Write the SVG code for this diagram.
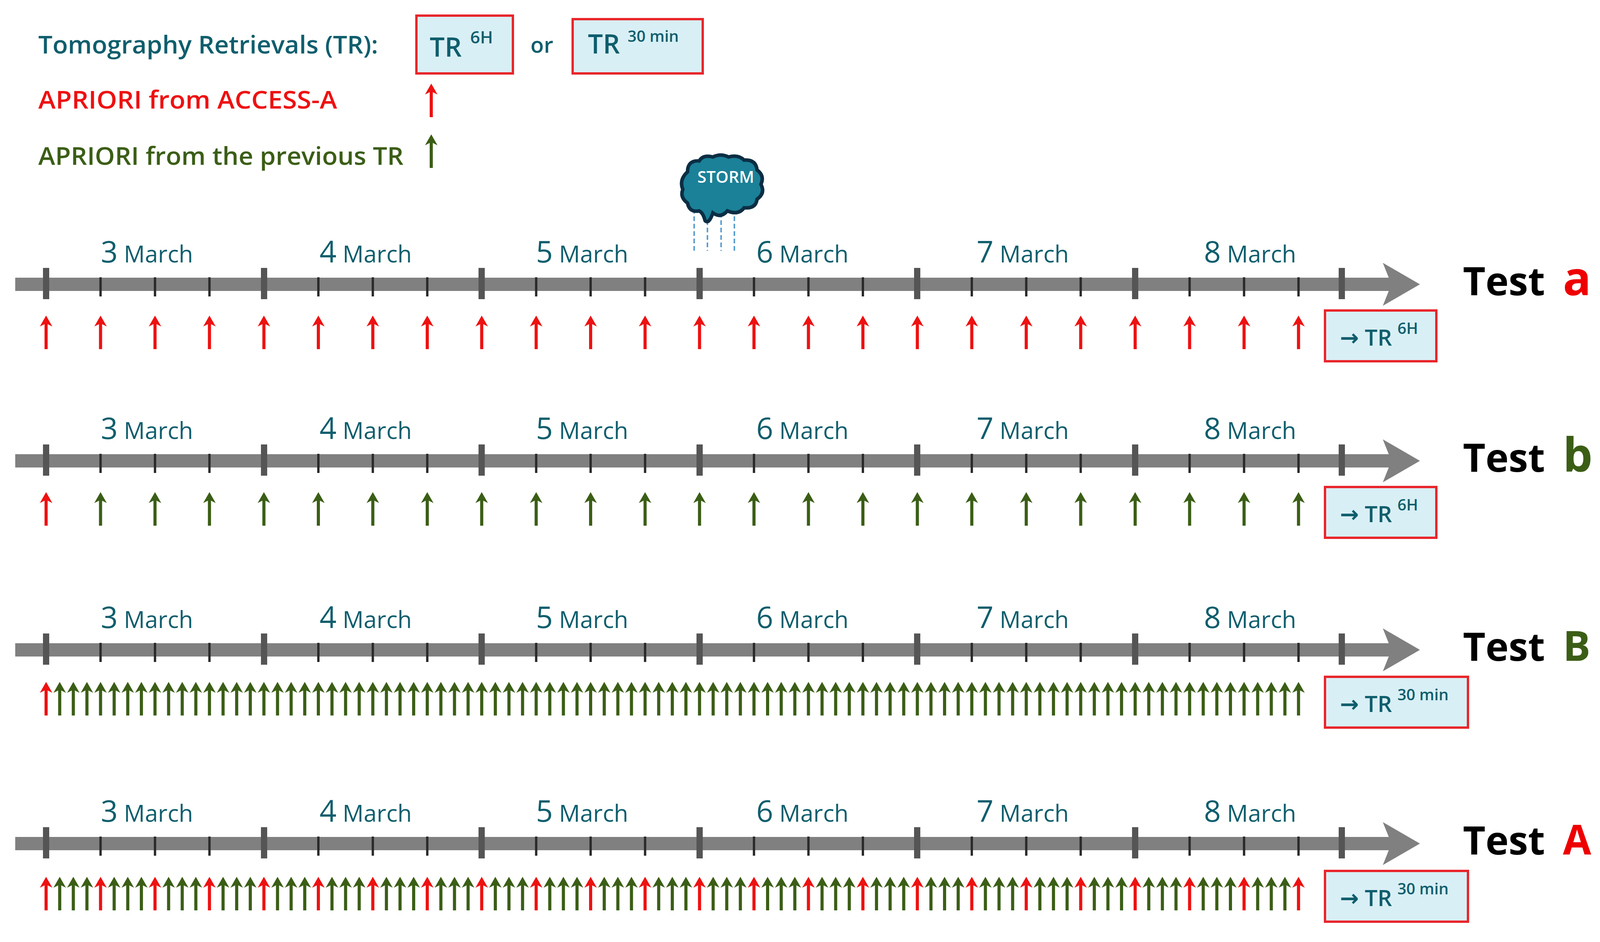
<svg xmlns="http://www.w3.org/2000/svg" xmlns:xlink="http://www.w3.org/1999/xlink" width="4100" height="2412" viewBox="0 0 4100 2412">
<style>
text{font-family:"Open Sans","Noto Sans","DejaVu Sans",sans-serif}
.teal{fill:#0f5e6d}
.date{fill:#0f5e6d;font-size:60px}
.num{font-size:76px}
.box{fill:#d8eff5;stroke:#e8262b;stroke-width:6}
.test{font-size:100px;font-weight:bold;fill:#000}
.bar{fill:#808080}
.maj{fill:#555}
.min{stroke:#2a2a2a;stroke-width:6}
.rain{stroke:#5a9fd0;stroke-width:4;stroke-dasharray:12 7}
</style>
<defs>
<g id="arR"><line x1="0" y1="0" x2="0" y2="-72" stroke="#ee1111" stroke-width="8"/><polygon points="-16,-58 0,-86 16,-58 0,-66" fill="#ee1111"/></g>
<g id="arG"><line x1="0" y1="0" x2="0" y2="-72" stroke="#3b5e16" stroke-width="8"/><polygon points="-16,-58 0,-86 16,-58 0,-66" fill="#3b5e16"/></g>
<g id="qG"><use xlink:href="#arG" x="0"/><use xlink:href="#arG" x="34.85"/><use xlink:href="#arG" x="69.7"/><use xlink:href="#arG" x="104.55"/></g>
<g id="qA"><use xlink:href="#arR" x="0"/><use xlink:href="#arG" x="34.85"/><use xlink:href="#arG" x="69.7"/><use xlink:href="#arG" x="104.55"/></g>
<g id="axis">
<rect class="bar" x="39" y="-17" width="3530" height="34"/>
<polygon class="bar" points="3540,-55 3635,0 3540,55 3562,0"/>
<g class="min">
<line x1="257.4" y1="-18" x2="257.4" y2="31"/><line x1="396.8" y1="-18" x2="396.8" y2="31"/><line x1="536.2" y1="-18" x2="536.2" y2="31"/>
<line x1="815" y1="-18" x2="815" y2="31"/><line x1="954.4" y1="-18" x2="954.4" y2="31"/><line x1="1093.8" y1="-18" x2="1093.8" y2="31"/>
<line x1="1372.6" y1="-18" x2="1372.6" y2="31"/><line x1="1512" y1="-18" x2="1512" y2="31"/><line x1="1651.4" y1="-18" x2="1651.4" y2="31"/>
<line x1="1930.2" y1="-18" x2="1930.2" y2="31"/><line x1="2069.6" y1="-18" x2="2069.6" y2="31"/><line x1="2209" y1="-18" x2="2209" y2="31"/>
<line x1="2487.8" y1="-18" x2="2487.8" y2="31"/><line x1="2627.2" y1="-18" x2="2627.2" y2="31"/><line x1="2766.6" y1="-18" x2="2766.6" y2="31"/>
<line x1="3045.4" y1="-18" x2="3045.4" y2="31"/><line x1="3184.8" y1="-18" x2="3184.8" y2="31"/><line x1="3324.2" y1="-18" x2="3324.2" y2="31"/>
</g>
<g class="maj">
<rect x="110" y="-42" width="16" height="80"/><rect x="668" y="-42" width="16" height="80"/><rect x="1225" y="-42" width="16" height="80"/>
<rect x="1783" y="-42" width="16" height="80"/><rect x="2340" y="-42" width="16" height="80"/><rect x="2898" y="-42" width="16" height="80"/>
<rect x="3427" y="-42" width="16" height="80"/>
</g>
</g>
<g id="ar6R">
<use xlink:href="#arR" x="118"/><use xlink:href="#arR" x="257.4"/><use xlink:href="#arR" x="396.8"/><use xlink:href="#arR" x="536.2"/><use xlink:href="#arR" x="675.6"/><use xlink:href="#arR" x="815"/><use xlink:href="#arR" x="954.4"/><use xlink:href="#arR" x="1093.8"/><use xlink:href="#arR" x="1233.2"/><use xlink:href="#arR" x="1372.6"/><use xlink:href="#arR" x="1512"/><use xlink:href="#arR" x="1651.4"/><use xlink:href="#arR" x="1790.8"/><use xlink:href="#arR" x="1930.2"/><use xlink:href="#arR" x="2069.6"/><use xlink:href="#arR" x="2209"/><use xlink:href="#arR" x="2348.4"/><use xlink:href="#arR" x="2487.8"/><use xlink:href="#arR" x="2627.2"/><use xlink:href="#arR" x="2766.6"/><use xlink:href="#arR" x="2906"/><use xlink:href="#arR" x="3045.4"/><use xlink:href="#arR" x="3184.8"/><use xlink:href="#arR" x="3324.2"/>
</g>
<g id="ar6G">
<use xlink:href="#arR" x="118"/><use xlink:href="#arG" x="257.4"/><use xlink:href="#arG" x="396.8"/><use xlink:href="#arG" x="536.2"/><use xlink:href="#arG" x="675.6"/><use xlink:href="#arG" x="815"/><use xlink:href="#arG" x="954.4"/><use xlink:href="#arG" x="1093.8"/><use xlink:href="#arG" x="1233.2"/><use xlink:href="#arG" x="1372.6"/><use xlink:href="#arG" x="1512"/><use xlink:href="#arG" x="1651.4"/><use xlink:href="#arG" x="1790.8"/><use xlink:href="#arG" x="1930.2"/><use xlink:href="#arG" x="2069.6"/><use xlink:href="#arG" x="2209"/><use xlink:href="#arG" x="2348.4"/><use xlink:href="#arG" x="2487.8"/><use xlink:href="#arG" x="2627.2"/><use xlink:href="#arG" x="2766.6"/><use xlink:href="#arG" x="2906"/><use xlink:href="#arG" x="3045.4"/><use xlink:href="#arG" x="3184.8"/><use xlink:href="#arG" x="3324.2"/>
</g>
<g id="arB">
<use xlink:href="#qA" x="118"/><use xlink:href="#qG" x="257.4"/><use xlink:href="#qG" x="396.8"/><use xlink:href="#qG" x="536.2"/><use xlink:href="#qG" x="675.6"/><use xlink:href="#qG" x="815"/><use xlink:href="#qG" x="954.4"/><use xlink:href="#qG" x="1093.8"/><use xlink:href="#qG" x="1233.2"/><use xlink:href="#qG" x="1372.6"/><use xlink:href="#qG" x="1512"/><use xlink:href="#qG" x="1651.4"/><use xlink:href="#qG" x="1790.8"/><use xlink:href="#qG" x="1930.2"/><use xlink:href="#qG" x="2069.6"/><use xlink:href="#qG" x="2209"/><use xlink:href="#qG" x="2348.4"/><use xlink:href="#qG" x="2487.8"/><use xlink:href="#qG" x="2627.2"/><use xlink:href="#qG" x="2766.6"/><use xlink:href="#qG" x="2906"/><use xlink:href="#qG" x="3045.4"/><use xlink:href="#qG" x="3184.8"/><use xlink:href="#arG" x="3324.2"/>
</g>
<g id="arA">
<use xlink:href="#qA" x="118"/><use xlink:href="#qA" x="257.4"/><use xlink:href="#qA" x="396.8"/><use xlink:href="#qA" x="536.2"/><use xlink:href="#qA" x="675.6"/><use xlink:href="#qA" x="815"/><use xlink:href="#qA" x="954.4"/><use xlink:href="#qA" x="1093.8"/><use xlink:href="#qA" x="1233.2"/><use xlink:href="#qA" x="1372.6"/><use xlink:href="#qA" x="1512"/><use xlink:href="#qA" x="1651.4"/><use xlink:href="#qA" x="1790.8"/><use xlink:href="#qA" x="1930.2"/><use xlink:href="#qA" x="2069.6"/><use xlink:href="#qA" x="2209"/><use xlink:href="#qA" x="2348.4"/><use xlink:href="#qA" x="2487.8"/><use xlink:href="#qA" x="2627.2"/><use xlink:href="#qA" x="2766.6"/><use xlink:href="#qA" x="2906"/><use xlink:href="#qA" x="3045.4"/><use xlink:href="#qA" x="3184.8"/><use xlink:href="#arR" x="3324.2"/>
</g>
</defs>
<rect width="4100" height="2412" fill="#fff"/>

<g id="legend">
<text class="teal" x="98" y="137" font-size="64" font-weight="600" textLength="870" lengthAdjust="spacingAndGlyphs">Tomography Retrievals (TR):</text>
<rect class="box" x="1066" y="40" width="247" height="148"/>
<text class="teal" x="1100" y="145" font-size="68" font-weight="600">TR<tspan dx="22" dy="-34" font-size="44">6H</tspan></text>
<text class="teal" x="1358" y="135" font-size="56" font-weight="600">or</text>
<rect class="box" x="1466" y="49" width="333" height="139"/>
<text class="teal" x="1505" y="137" font-size="68" font-weight="600">TR<tspan dx="20" dy="-30" font-size="40">30 min</tspan></text>
<text x="98" y="278" font-size="64" font-weight="600" fill="#ee1111" textLength="765" lengthAdjust="spacingAndGlyphs">APRIORI from ACCESS-A</text>
<use xlink:href="#arR" x="1104" y="300"/>
<text x="98" y="422" font-size="64" font-weight="600" fill="#3b5e16" textLength="935" lengthAdjust="spacingAndGlyphs">APRIORI from the previous TR</text>
<use xlink:href="#arG" x="1104" y="430"/>
</g>

<g id="storm">
<line class="rain" x1="1777" y1="535" x2="1777" y2="642"/>
<line class="rain" x1="1811" y1="545" x2="1811" y2="642"/>
<line class="rain" x1="1846" y1="545" x2="1846" y2="642"/>
<line class="rain" x1="1880" y1="535" x2="1880" y2="642"/>
<path d="M1760,440 Q1760,410 1790,412 Q1800,395 1825,402 Q1845,392 1865,402 Q1890,395 1905,410 Q1935,408 1938,435 Q1958,450 1948,472 Q1960,495 1938,510 Q1935,535 1905,532 Q1890,552 1862,540 Q1845,560 1825,545 Q1815,575 1805,565 Q1800,545 1790,540 Q1765,545 1760,520 Q1740,505 1748,485 Q1738,460 1760,440 Z" fill="#1a8198" stroke="#0b2e44" stroke-width="9"/>
<text x="1858" y="468" font-size="42" font-weight="600" fill="#ffffff" text-anchor="middle">STORM</text>
</g>

<g id="connectors">
<use xlink:href="#axis" y="728"/>
<use xlink:href="#axis" y="1180"/>
<use xlink:href="#axis" y="1664"/>
<use xlink:href="#axis" y="2160"/>
<use xlink:href="#ar6R" y="894"/>
<use xlink:href="#ar6G" y="1346"/>
<use xlink:href="#arB" y="1832"/>
<use xlink:href="#arA" y="2331"/>
</g>

<g id="test-a">
<text class="date" x="258" y="672"><tspan class="num">3</tspan> March</text>
<text class="date" x="818" y="672"><tspan class="num">4</tspan> March</text>
<text class="date" x="1372" y="672"><tspan class="num">5</tspan> March</text>
<text class="date" x="1936" y="672"><tspan class="num">6</tspan> March</text>
<text class="date" x="2500" y="672"><tspan class="num">7</tspan> March</text>
<text class="date" x="3082" y="672"><tspan class="num">8</tspan> March</text>
<rect class="box" x="3392" y="795" width="285" height="130"/>
<text class="teal" x="3430" y="885" font-size="58" font-weight="600">→ TR<tspan dx="14" dy="-30" font-size="40">6H</tspan></text>
<text class="test" x="3745" y="756">Test <tspan fill="#ee0000" font-size="120" dx="20">a</tspan></text>
</g>

<g id="test-b">
<text class="date" x="258" y="1124"><tspan class="num">3</tspan> March</text>
<text class="date" x="818" y="1124"><tspan class="num">4</tspan> March</text>
<text class="date" x="1372" y="1124"><tspan class="num">5</tspan> March</text>
<text class="date" x="1936" y="1124"><tspan class="num">6</tspan> March</text>
<text class="date" x="2500" y="1124"><tspan class="num">7</tspan> March</text>
<text class="date" x="3082" y="1124"><tspan class="num">8</tspan> March</text>
<rect class="box" x="3392" y="1247" width="285" height="130"/>
<text class="teal" x="3430" y="1337" font-size="58" font-weight="600">→ TR<tspan dx="14" dy="-30" font-size="40">6H</tspan></text>
<text class="test" x="3745" y="1208">Test <tspan fill="#3b5e16" font-size="120" dx="20">b</tspan></text>
</g>

<g id="test-B">
<text class="date" x="258" y="1608"><tspan class="num">3</tspan> March</text>
<text class="date" x="818" y="1608"><tspan class="num">4</tspan> March</text>
<text class="date" x="1372" y="1608"><tspan class="num">5</tspan> March</text>
<text class="date" x="1936" y="1608"><tspan class="num">6</tspan> March</text>
<text class="date" x="2500" y="1608"><tspan class="num">7</tspan> March</text>
<text class="date" x="3082" y="1608"><tspan class="num">8</tspan> March</text>
<rect class="box" x="3392" y="1733" width="366" height="130"/>
<text class="teal" x="3430" y="1823" font-size="58" font-weight="600">→ TR<tspan dx="14" dy="-30" font-size="40">30 min</tspan></text>
<text class="test" x="3745" y="1692">Test <tspan fill="#3b5e16" font-size="105" dx="20">B</tspan></text>
</g>

<g id="test-A">
<text class="date" x="258" y="2104"><tspan class="num">3</tspan> March</text>
<text class="date" x="818" y="2104"><tspan class="num">4</tspan> March</text>
<text class="date" x="1372" y="2104"><tspan class="num">5</tspan> March</text>
<text class="date" x="1936" y="2104"><tspan class="num">6</tspan> March</text>
<text class="date" x="2500" y="2104"><tspan class="num">7</tspan> March</text>
<text class="date" x="3082" y="2104"><tspan class="num">8</tspan> March</text>
<rect class="box" x="3392" y="2230" width="366" height="130"/>
<text class="teal" x="3430" y="2320" font-size="58" font-weight="600">→ TR<tspan dx="14" dy="-30" font-size="40">30 min</tspan></text>
<text class="test" x="3745" y="2188">Test <tspan fill="#ee0000" font-size="105" dx="20">A</tspan></text>
</g>
</svg>
